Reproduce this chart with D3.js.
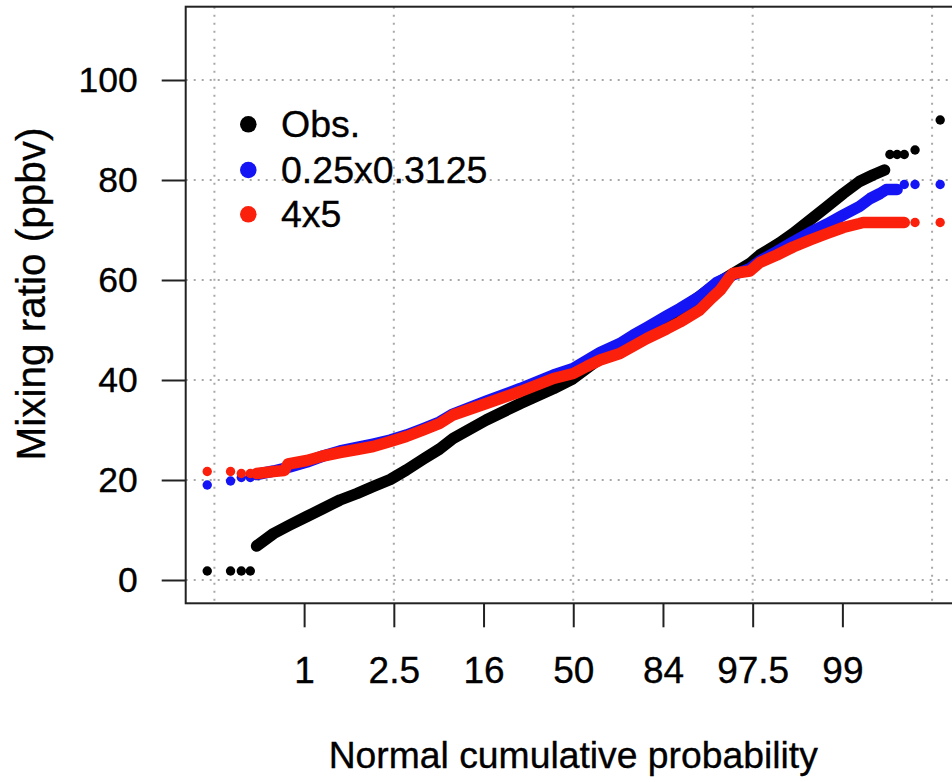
<!DOCTYPE html>
<html>
<head>
<meta charset="utf-8">
<script src="https://cdn.jsdelivr.net/npm/d3@7"></script>
<style>
  body { margin: 0; background: #fff; }
  svg { display: block; font-family: "Liberation Sans", Arial, Helvetica, sans-serif; }
  text { fill: #000; stroke: #000; stroke-width: 0.35; }
</style>
</head>
<body>
<svg id="chart" width="952" height="782"></svg>
<script>
// x positions are in normal quantile (z) units, values in ppbv
var tickLabels = ["1", "2.5", "16", "50", "84", "97.5", "99"];
var tickZ = [-3, -2, -1, 0, 1, 2, 3];
var gridZ = [-4, -2, 0, 2, 4];
var yTicks = [0, 20, 40, 60, 80, 100];

var seriesNames = ["Obs.", "0.25x0.3125", "4x5"];
var seriesCols = ["#000000", "#1414f5", "#fa200c"];

// Obs.
var obsBandZ = [-3.53, -3.34, -3.16, -2.97, -2.79, -2.6, -2.41, -2.23, -2.04, -1.86, -1.67, -1.49, -1.34, -0.97, -0.59, -0.22, 0, 0.3, 0.67, 1.04, 1.3, 1.6, 1.97, 2.08, 2.3, 2.45, 2.64, 2.83, 3.01, 3.19, 3.34, 3.47];
var obsBandV = [6.8, 9.3, 11.0, 12.7, 14.3, 16.0, 17.3, 18.7, 20.1, 22.0, 24.2, 26.2, 28.3, 32.0, 35.3, 38.3, 40.3, 44.3, 47.9, 51.3, 55.3, 59.3, 63.3, 65.0, 67.4, 69.3, 72.0, 74.7, 77.3, 79.7, 81.0, 82.0];
var obsTailZ = [-4.08, -3.82, -3.7, -3.6, 3.53, 3.61, 3.69, 3.81, 4.09];
var obsTailV = [1.8, 1.8, 1.8, 1.8, 85.1, 85.1, 85.1, 86.0, 92.0];

// 0.25x0.3125
var fineBandZ = [-3.53, -3.34, -3.16, -2.97, -2.79, -2.6, -2.41, -2.23, -2.04, -1.86, -1.67, -1.49, -1.34, -0.97, -0.59, -0.22, 0, 0.3, 0.52, 0.67, 0.82, 1.04, 1.19, 1.41, 1.6, 1.78, 1.97, 2.08, 2.27, 2.45, 2.64, 2.83, 3.01, 3.19, 3.31, 3.42, 3.49, 3.61];
var fineBandV = [21.1, 21.8, 22.6, 23.6, 24.8, 25.8, 26.5, 27.2, 28.0, 29.0, 30.3, 31.6, 33.2, 35.8, 38.3, 41.0, 42.3, 45.5, 47.3, 49.0, 50.5, 52.8, 54.3, 56.7, 59.5, 61.0, 62.3, 63.8, 65.7, 67.6, 69.5, 71.2, 73.0, 74.7, 76.3, 77.3, 78.1, 78.1];
var fineTailZ = [-4.08, -3.82, -3.7, -3.6, 3.69, 3.81, 4.09];
var fineTailV = [19.0, 19.8, 20.5, 20.5, 79.1, 79.1, 79.1];

// 4x5
var coarseBandZ = [-3.53, -3.34, -3.22, -3.18, -2.97, -2.79, -2.6, -2.41, -2.23, -2.04, -1.86, -1.67, -1.49, -1.34, -0.97, -0.59, -0.22, 0, 0.15, 0.3, 0.52, 0.67, 0.82, 1.04, 1.19, 1.41, 1.55, 1.64, 1.75, 1.78, 1.97, 2.08, 2.27, 2.45, 2.64, 2.83, 3.01, 3.19, 3.23, 3.49, 3.69];
var coarseBandV = [21.3, 21.7, 21.9, 23.2, 23.9, 24.8, 25.5, 26.1, 26.7, 27.7, 28.7, 30.0, 31.3, 33.0, 35.3, 37.7, 40.3, 41.3, 42.7, 44.0, 45.3, 46.8, 48.3, 50.2, 51.6, 54.0, 56.5, 58.0, 60.7, 61.3, 61.8, 63.5, 65.0, 66.6, 68.0, 69.3, 70.5, 71.3, 71.5, 71.5, 71.5];
var coarseTailZ = [-4.08, -3.82, -3.7, -3.6, 3.81, 4.09];
var coarseTailV = [21.7, 21.7, 21.3, 21.3, 71.5, 71.5];

var series = [
  { band: d3.zip(obsBandZ, obsBandV), tail: d3.zip(obsTailZ, obsTailV) },
  { band: d3.zip(fineBandZ, fineBandV), tail: d3.zip(fineTailZ, fineTailV) },
  { band: d3.zip(coarseBandZ, coarseBandV), tail: d3.zip(coarseTailZ, coarseTailV) }
];

var svg = d3.select("#chart");
var plotL = 185.7, plotR = 960.8, plotT = 6.7, plotB = 603.3;

var x = d3.scaleLinear().domain([-4.32, 4.32]).range([plotL, plotR]);
var y = d3.scaleLinear().domain([-4.66, 114.66]).range([plotB, plotT]);

// grid
var grid = svg.append("g")
  .attr("stroke", "#a8a8a8")
  .attr("stroke-width", 2)
  .attr("stroke-dasharray", "2,6");
grid.selectAll("line.h").data(yTicks).join("line")
  .attr("class", "h")
  .attr("x1", plotL).attr("x2", plotR)
  .attr("y1", d => y(d)).attr("y2", d => y(d));
grid.selectAll("line.v").data(gridZ).join("line")
  .attr("class", "v")
  .attr("y1", plotT).attr("y2", plotB)
  .attr("x1", d => x(d)).attr("x2", d => x(d));

// points: dense part as a thick trace of overlapping dots, tails as single dots
var r = 4.7, bandW = 11.5;
var line = d3.line().x(d => x(d[0])).y(d => y(d[1]));
series.forEach(function (s, i) {
  var g = svg.append("g").attr("fill", seriesCols[i]);
  g.append("path")
    .attr("d", line(s.band))
    .attr("fill", "none")
    .attr("stroke", seriesCols[i])
    .attr("stroke-width", bandW)
    .attr("stroke-linejoin", "round")
    .attr("stroke-linecap", "round");
  g.selectAll("circle")
    .data(s.tail)
    .join("circle")
    .attr("cx", d => x(d[0]))
    .attr("cy", d => y(d[1]))
    .attr("r", r);
});

// frame
svg.append("rect")
  .attr("x", plotL).attr("y", plotT)
  .attr("width", plotR - plotL).attr("height", plotB - plotT)
  .attr("fill", "none")
  .attr("stroke", "#222")
  .attr("stroke-width", 2);

// y axis
var yAxis = svg.append("g")
  .attr("transform", "translate(" + plotL + ",0)")
  .call(d3.axisLeft(y).tickValues(yTicks).tickSize(24).tickPadding(24));
yAxis.select(".domain").remove();
yAxis.selectAll(".tick line").attr("stroke", "#222").attr("stroke-width", 2);
yAxis.selectAll(".tick text")
  .attr("font-size", 35.5)
  .attr("font-family", "Liberation Sans, Arial, sans-serif");

// x axis
var xAxis = svg.append("g")
  .attr("transform", "translate(0," + plotB + ")")
  .call(d3.axisBottom(x).tickValues(tickZ).tickFormat((d, i) => tickLabels[i]).tickSize(24).tickPadding(29));
xAxis.select(".domain").remove();
xAxis.selectAll(".tick line").attr("stroke", "#222").attr("stroke-width", 2);
xAxis.selectAll(".tick text")
  .attr("font-size", 37)
  .attr("font-family", "Liberation Sans, Arial, sans-serif");

// titles
svg.append("text")
  .attr("x", (plotL + plotR) / 2)
  .attr("y", 768)
  .attr("text-anchor", "middle")
  .attr("font-size", 37.3)
  .text("Normal cumulative probability");

svg.append("text")
  .attr("transform", "translate(45,294) rotate(-90)")
  .attr("text-anchor", "middle")
  .attr("font-size", 40.5)
  .text("Mixing ratio (ppbv)");

// legend
var legY = [124.3, 170, 214.3];
var leg = svg.append("g");
seriesNames.forEach(function (name, i) {
  leg.append("circle")
    .attr("cx", 248.3).attr("cy", legY[i]).attr("r", 8.3)
    .attr("fill", seriesCols[i]);
  leg.append("text")
    .attr("x", 281)
    .attr("y", legY[i])
    .attr("dy", "0.35em")
    .attr("font-size", 37.5)
    .text(name);
});
</script>
</body>
</html>
